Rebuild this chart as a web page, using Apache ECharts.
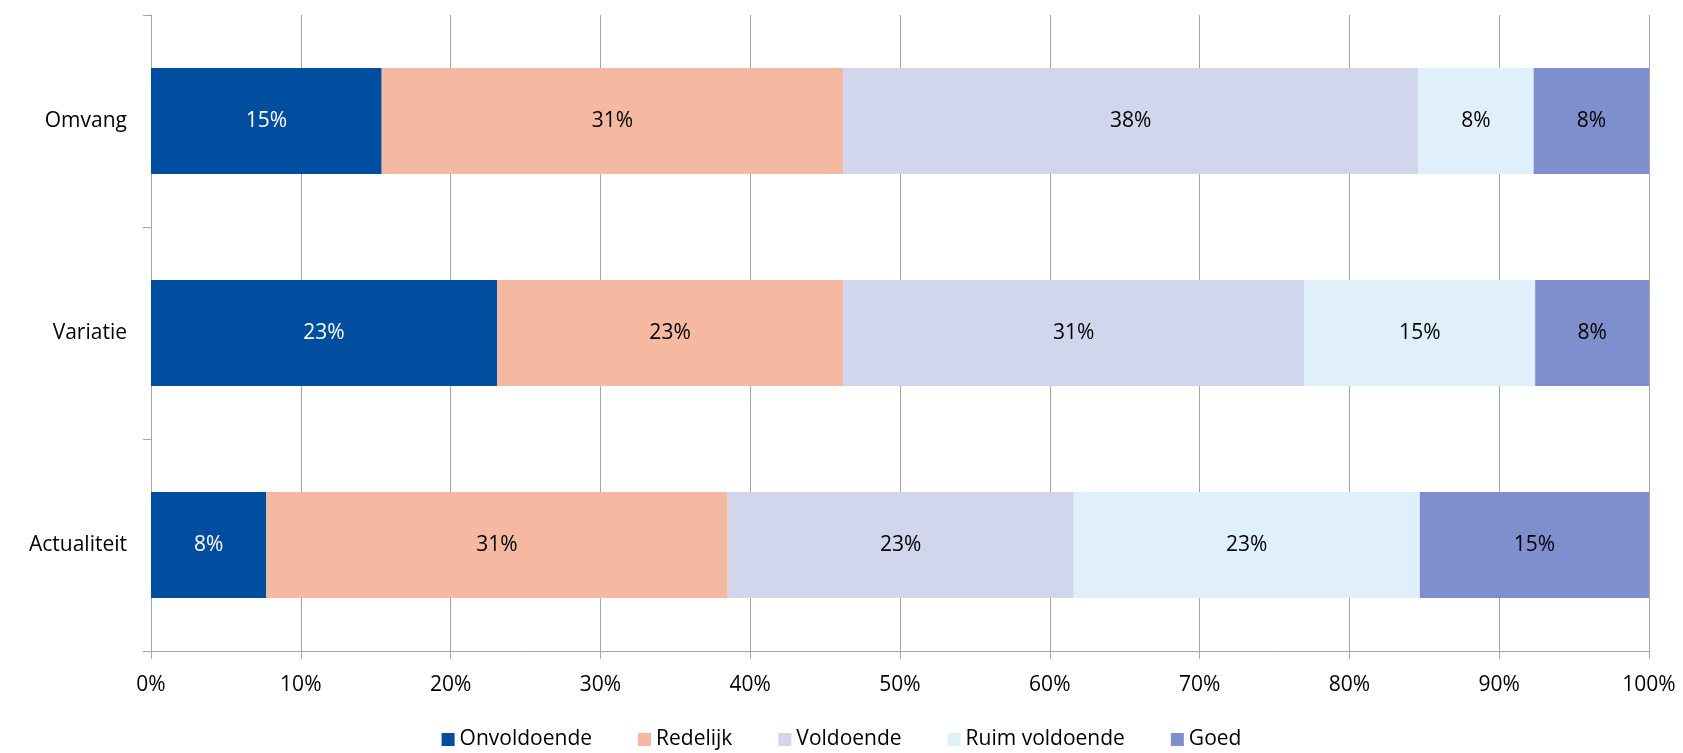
<!DOCTYPE html>
<html>
<head>
<meta charset="utf-8">
<script src="https://cdn.jsdelivr.net/npm/echarts@6/dist/echarts.min.js"></script>
<style>
  html, body { margin: 0; padding: 0; background: #fff; }
  #chart { width: 1683px; height: 753px; }
</style>
</head>
<body>
<div id="chart"></div>
<script>
// categorieen en percentages (per rij)
var categories = ['Omvang', 'Variatie', 'Actualiteit'];
var seriesNames = ['Onvoldoende', 'Redelijk', 'Voldoende', 'Ruim voldoende', 'Goed'];
var onvoldoende = [15.4, 23.1, 7.7];
var redelijk = [30.8, 23.1, 30.8];
var voldoende = [38.4, 30.8, 23.1];
var ruimVoldoende = [7.7, 15.4, 23.1];
var goed = [7.7, 7.6, 15.3];
var xTicks = [0, 10, 20, 30, 40, 50, 60, 70, 80, 90, 100];

var colors = ['#014DA0', '#F5B8A1', '#D1D6EC', '#DFF0FA', '#7F8ECD'];
var labelColors = ['#ffffff', '#000000', '#000000', '#000000', '#000000'];
var allData = [onvoldoende, redelijk, voldoende, ruimVoldoende, goed];
var font = 'Open Sans';

var chart = echarts.init(document.getElementById('chart'));

var series = [];
for (let i = 0; i < seriesNames.length; i++) {
  series.push({
    name: seriesNames[i],
    type: 'bar',
    stack: 'totaal',
    barCategoryGap: '50%',
    data: allData[i],
    itemStyle: { color: colors[i] },
    label: {
      show: true,
      position: 'inside',
      color: labelColors[i],
      fontFamily: font,
      fontSize: 21,
      formatter: function (p) { return Math.round(p.value) + '%'; }
    }
  });
}

var option = {
  backgroundColor: '#ffffff',
  animation: false,
  textStyle: { fontFamily: font },
  grid: { left: 151, right: 34, top: 15, bottom: 102 },
  legend: {
    bottom: -2,
    left: 'center',
    itemWidth: 13,
    itemHeight: 13,
    itemGap: 46,
    icon: 'rect',
    textStyle: { fontFamily: font, fontSize: 21, color: '#000' },
    data: seriesNames
  },
  xAxis: {
    type: 'value',
    min: xTicks[0],
    max: xTicks[xTicks.length - 1],
    interval: 10,
    axisLine: { show: true, lineStyle: { color: '#a6a6a6', width: 1 } },
    axisTick: { show: true, length: 8, lineStyle: { color: '#a6a6a6' } },
    splitLine: { show: true, lineStyle: { color: '#a6a6a6', width: 1 } },
    axisLabel: {
      fontFamily: font, fontSize: 21, color: '#000', margin: 24,
      formatter: function (v) { return v + '%'; }
    }
  },
  yAxis: {
    type: 'category',
    inverse: true,
    data: categories,
    axisLine: { show: true, lineStyle: { color: '#a6a6a6', width: 1 } },
    axisTick: { show: true, length: 8, lineStyle: { color: '#a6a6a6' } },
    axisLabel: { fontFamily: font, fontSize: 21, color: '#000', margin: 24 }
  },
  series: series
};

chart.setOption(option);
</script>
</body>
</html>
